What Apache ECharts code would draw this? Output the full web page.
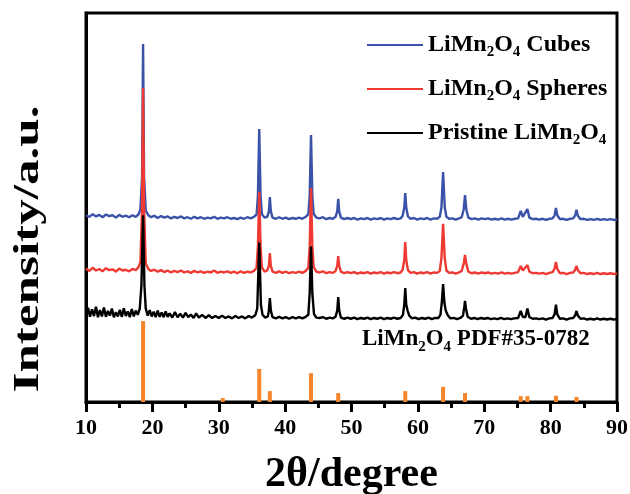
<!DOCTYPE html>
<html>
<head>
<meta charset="utf-8">
<script src="https://cdn.jsdelivr.net/npm/echarts@6/dist/echarts.min.js"></script>
<style>html,body{margin:0;padding:0;background:#fff;}#chart{width:630px;height:494px;}</style>
</head>
<body>
<div id="chart"></div>
<script>
// X axis ticks
const xTicks = [10, 20, 30, 40, 50, 60, 70, 80, 90];

// Series names
const seriesNames = ['LiMn2O4 Cubes', 'LiMn2O4 Spheres', 'Pristine LiMn2O4'];

// LiMn2O4 Cubes (offset pattern) [2theta, intensity]
const cubes = [[10,48.0],[10.5,47.6],[11,48.3],[11.5,47.7],[12,48.1],[12.5,47.5],[13,48.2],[13.5,47.8],[14,48.0],[14.5,47.4],[15,48.1],[15.5,47.6],[16,47.9],[16.5,47.5],[17,48.0],[17.5,47.6],[17.9,48.2],[18.2,49.5],[18.45,58],[18.6,92],[18.75,58],[19.0,49.2],[19.4,48.0],[19.8,47.5],[20.3,47.9],[20.8,47.3],[21.3,47.8],[21.8,47.4],[22.3,47.7],[22.8,47.2],[23.3,47.6],[23.8,47.3],[24.3,47.7],[24.8,47.2],[25.3,47.5],[25.8,47.1],[26.3,47.6],[26.8,47.2],[27.3,47.5],[27.8,47.1],[28.3,47.4],[28.8,47.2],[29.3,47.6],[29.8,47.1],[30.3,47.4],[30.8,47.2],[31.3,47.5],[31.8,47.1],[32.3,47.3],[32.8,47.0],[33.3,47.4],[33.8,47.1],[34.3,47.5],[34.8,47.2],[35.3,47.6],[35.7,48.2],[35.9,53],[36.1,70.2],[36.3,53],[36.5,48.3],[36.9,47.4],[37.3,47.6],[37.55,49],[37.7,52.7],[37.85,49],[38.1,47.4],[38.6,47.1],[39.1,47.5],[39.6,47.1],[40.1,47.4],[40.6,47.0],[41.1,47.3],[41.6,47.1],[42.1,47.4],[42.6,47.1],[43.1,47.6],[43.5,48.3],[43.7,53],[43.9,68.6],[44.1,53],[44.3,48.4],[44.7,47.4],[45.2,47.2],[45.7,47.5],[46.2,47.0],[46.7,47.3],[47.2,47.1],[47.6,47.6],[47.85,49],[48.0,52.2],[48.15,49],[48.4,47.4],[48.9,47.0],[49.4,47.3],[49.9,47.0],[50.4,47.3],[50.9,46.9],[51.4,47.2],[51.9,47.0],[52.4,47.3],[52.9,46.9],[53.4,47.2],[53.9,47.0],[54.4,47.3],[54.9,46.9],[55.4,47.2],[55.9,47.0],[56.4,47.3],[56.9,47.0],[57.4,47.2],[57.7,47.8],[57.95,50],[58.1,53.7],[58.25,50],[58.5,47.7],[58.9,47.1],[59.4,47.3],[59.9,46.9],[60.4,47.2],[60.9,47.0],[61.4,47.3],[61.9,46.9],[62.4,47.2],[62.9,47.1],[63.3,47.6],[63.55,50],[63.8,59.1],[64.05,50],[64.3,47.6],[64.7,47.1],[65.2,47.2],[65.7,46.9],[66.2,47.2],[66.6,47.5],[66.9,49.5],[67.1,53.2],[67.3,49.5],[67.6,47.4],[68.1,47.0],[68.6,47.2],[69.1,46.9],[69.6,47.2],[70.1,47.0],[70.6,47.2],[71.1,46.9],[71.6,47.1],[72.1,46.9],[72.6,47.2],[73.1,46.9],[73.6,47.1],[74.1,46.9],[74.6,47.1],[75.1,47.2],[75.5,49.1],[75.8,47.6],[76.1,47.5],[76.5,49.6],[76.8,47.4],[77.3,47.0],[77.8,47.1],[78.3,46.9],[78.8,47.1],[79.3,46.8],[79.8,47.1],[80.3,47.2],[80.6,48],[80.8,49.9],[81.0,48],[81.4,47.0],[81.9,47.1],[82.4,46.8],[82.9,47.1],[83.4,47.2],[83.7,48],[83.9,49.4],[84.1,47.9],[84.5,47.0],[85,47.1],[85.5,46.8],[86,47.0],[86.5,46.8],[87,47.1],[87.5,46.8],[88,47.0],[88.5,46.8],[89,47.0],[89.5,46.8],[90,46.9]];

// LiMn2O4 Spheres
const spheres = [[10,34.3],[10.5,33.7],[11,34.5],[11.5,33.8],[12,34.2],[12.5,33.6],[13,34.4],[13.5,33.9],[14,34.1],[14.5,33.5],[15,34.3],[15.5,33.8],[16,34.0],[16.5,33.6],[17,34.2],[17.5,33.9],[17.9,34.6],[18.2,36],[18.45,50],[18.6,80.7],[18.75,50],[19.0,35.6],[19.4,34.2],[19.8,33.7],[20.3,34.0],[20.8,33.5],[21.3,33.9],[21.8,33.4],[22.3,33.8],[22.8,33.3],[23.3,33.7],[23.8,33.4],[24.3,33.8],[24.8,33.3],[25.3,33.6],[25.8,33.2],[26.3,33.7],[26.8,33.3],[27.3,33.6],[27.8,33.2],[28.3,33.5],[28.8,33.3],[29.3,33.8],[29.8,33.2],[30.3,33.5],[30.8,33.3],[31.3,33.6],[31.8,33.2],[32.3,33.5],[32.8,33.1],[33.3,33.6],[33.8,33.2],[34.3,33.5],[34.8,33.3],[35.3,33.7],[35.7,34.5],[35.9,40],[36.1,54],[36.3,40],[36.5,34.6],[36.9,33.5],[37.3,33.8],[37.55,35],[37.7,38.3],[37.85,35],[38.1,33.5],[38.6,33.2],[39.1,33.6],[39.6,33.2],[40.1,33.5],[40.6,33.1],[41.1,33.4],[41.6,33.2],[42.1,33.5],[42.6,33.2],[43.1,33.7],[43.5,34.6],[43.7,40],[43.9,55],[44.1,40],[44.3,34.7],[44.7,33.5],[45.2,33.3],[45.7,33.6],[46.2,33.1],[46.7,33.4],[47.2,33.2],[47.6,33.7],[47.85,35],[48.0,37.5],[48.15,35],[48.4,33.5],[48.9,33.1],[49.4,33.4],[49.9,33.1],[50.4,33.4],[50.9,33.0],[51.4,33.3],[51.9,33.1],[52.4,33.4],[52.9,33.0],[53.4,33.3],[53.9,33.1],[54.4,33.4],[54.9,33.0],[55.4,33.3],[55.9,33.1],[56.4,33.4],[56.9,33.1],[57.4,33.3],[57.7,34],[57.95,36.5],[58.1,41.1],[58.25,36.5],[58.5,33.9],[58.9,33.2],[59.4,33.4],[59.9,33.0],[60.4,33.3],[60.9,33.1],[61.4,33.4],[61.9,33.0],[62.4,33.3],[62.9,33.2],[63.3,33.7],[63.55,37],[63.8,45.8],[64.05,37],[64.3,33.8],[64.7,33.2],[65.2,33.3],[65.7,33.0],[66.2,33.3],[66.6,33.7],[66.9,35.5],[67.1,37.8],[67.3,35.5],[67.6,33.5],[68.1,33.1],[68.6,33.3],[69.1,33.0],[69.6,33.3],[70.1,33.1],[70.6,33.3],[71.1,33.0],[71.6,33.2],[72.1,33.0],[72.6,33.3],[73.1,33.0],[73.6,33.2],[74.1,33.0],[74.6,33.2],[75.1,33.4],[75.5,35.0],[75.8,33.8],[76.1,33.7],[76.5,35.2],[76.8,33.5],[77.3,33.1],[77.8,33.2],[78.3,33.0],[78.8,33.2],[79.3,32.9],[79.8,33.2],[80.3,33.4],[80.6,34.3],[80.8,36.0],[81.0,34.2],[81.4,33.1],[81.9,33.2],[82.4,32.9],[82.9,33.2],[83.4,33.3],[83.7,34],[83.9,35.0],[84.1,33.9],[84.5,33.1],[85,33.2],[85.5,32.9],[86,33.1],[86.5,32.9],[87,33.2],[87.5,32.9],[88,33.1],[88.5,32.9],[89,33.1],[89.5,32.9],[90,33.0]];

// Pristine LiMn2O4
const pristine = [[10,22.6],[10.3,24.2],[10.6,21.9],[10.9,23.8],[11.2,22.1],[11.5,24.5],[11.8,21.8],[12.1,23.6],[12.4,22.0],[12.7,24.3],[13.0,21.9],[13.3,23.4],[13.6,22.2],[13.9,24.0],[14.2,21.8],[14.5,23.1],[14.8,22.0],[15.1,23.7],[15.4,21.9],[15.7,24.1],[16.0,22.1],[16.3,23.3],[16.6,21.8],[16.9,23.9],[17.2,22.0],[17.5,23.5],[17.8,22.4],[18.1,24.0],[18.35,30],[18.6,48],[18.8,30],[19.0,24.0],[19.3,22.2],[19.6,23.6],[19.9,22.0],[20.2,23.2],[20.5,21.8],[20.8,23.5],[21.1,21.9],[21.4,23.0],[21.7,21.8],[22.0,23.3],[22.3,21.9],[22.6,22.8],[23.0,21.7],[23.4,23.1],[23.8,21.8],[24.2,22.7],[24.6,21.7],[25.0,22.9],[25.4,21.8],[25.8,22.5],[26.2,21.6],[26.6,22.8],[27.0,21.7],[27.5,22.4],[28.0,21.6],[28.5,22.3],[29.0,21.6],[29.5,22.1],[30,21.6],[30.5,22.2],[31,21.6],[31.5,22.0],[32,21.5],[32.5,22.1],[33,21.6],[33.5,22.0],[34,21.5],[34.5,22.1],[35,21.7],[35.5,22.3],[35.8,24],[36.1,41],[36.35,25],[36.6,22.4],[37.0,21.7],[37.4,22.0],[37.55,23.5],[37.7,26.7],[37.85,23.5],[38.1,21.8],[38.6,21.5],[39.1,21.9],[39.6,21.5],[40.1,21.8],[40.6,21.4],[41.1,21.8],[41.6,21.5],[42.1,21.8],[42.6,21.5],[43.1,21.9],[43.5,22.5],[43.7,28],[43.9,40],[44.1,28],[44.35,22.6],[44.7,21.7],[45.2,21.6],[45.7,21.8],[46.2,21.4],[46.7,21.7],[47.2,21.5],[47.6,21.9],[47.85,23.5],[48.0,27],[48.15,23.5],[48.4,21.7],[48.9,21.4],[49.4,21.7],[49.9,21.4],[50.4,21.7],[50.9,21.3],[51.4,21.6],[51.9,21.4],[52.4,21.7],[52.9,21.3],[53.4,21.6],[53.9,21.4],[54.4,21.7],[54.9,21.3],[55.4,21.6],[55.9,21.4],[56.4,21.7],[56.9,21.4],[57.4,21.6],[57.75,22.4],[57.95,25],[58.1,29.3],[58.25,25],[58.45,23.5],[58.7,22.2],[59.1,21.5],[59.6,21.7],[60.1,21.3],[60.6,21.6],[61.1,21.4],[61.6,21.7],[62.1,21.3],[62.6,21.6],[63.1,21.6],[63.4,22.4],[63.6,25.5],[63.8,30.3],[64.0,25.5],[64.2,23.5],[64.5,22.3],[64.9,21.5],[65.4,21.6],[65.9,21.3],[66.4,21.6],[66.8,22.2],[67.0,24.5],[67.1,26],[67.25,24],[67.5,21.9],[68,21.4],[68.5,21.6],[69,21.3],[69.5,21.6],[70,21.4],[70.5,21.6],[71,21.3],[71.5,21.5],[72,21.3],[72.5,21.6],[73,21.3],[73.5,21.5],[74,21.3],[74.5,21.5],[75.1,21.6],[75.5,23.4],[75.8,21.9],[76.2,21.8],[76.5,24.0],[76.8,21.8],[77.3,21.4],[77.8,21.5],[78.3,21.3],[78.8,21.5],[79.3,21.2],[79.8,21.5],[80.3,21.6],[80.6,22.6],[80.8,25.0],[81.0,22.5],[81.4,21.4],[81.9,21.5],[82.4,21.2],[82.9,21.5],[83.4,21.6],[83.7,22.3],[83.9,23.4],[84.1,22.2],[84.5,21.4],[85,21.5],[85.5,21.2],[86,21.4],[86.5,21.2],[87,21.5],[87.5,21.2],[88,21.4],[88.5,21.2],[89,21.4],[89.5,21.2],[90,21.3]];

// Reference PDF#35-0782 stick pattern
const pdfPos = [18.6, 30.6, 36.1, 37.7, 43.9, 48.0, 58.1, 63.8, 67.1, 75.5, 76.5, 80.8, 83.9];
const pdfInt = [20.8, 1.0, 8.5, 2.8, 7.4, 2.3, 2.8, 3.9, 2.3, 1.5, 1.5, 1.6, 1.3];

const FONT = '"Liberation Serif", "Times New Roman", serif';
const richSub = {
  n: { fontSize: 24, fontWeight: 'bold', fontFamily: FONT, color: '#000' },
  s: { fontSize: 15, fontWeight: 'bold', fontFamily: FONT, color: '#000', padding: [15, 0, 0, 0] }
};
const richLabel = {
  'LiMn2O4 Cubes': '{n|LiMn}{s|2}{n|O}{s|4}{n| Cubes}',
  'LiMn2O4 Spheres': '{n|LiMn}{s|2}{n|O}{s|4}{n| Spheres}',
  'Pristine LiMn2O4': '{n|Pristine LiMn}{s|2}{n|O}{s|4}'
};
const colors = ['#3A52A8', '#EE3A33', '#000000'];

const chart = echarts.init(document.getElementById('chart'));
const lineSeries = [cubes, spheres, pristine].map((d, i) => ({
  name: seriesNames[i],
  type: 'line',
  data: d,
  symbol: 'none',
  lineStyle: { width: 2.4, color: colors[i] },
  itemStyle: { color: colors[i] },
  z: 2 + i
}));

chart.setOption({
  animation: false,
  backgroundColor: '#fff',
  grid: { left: 86, right: 13, top: 13, bottom: 92, show: true, borderColor: '#000', borderWidth: 3,
    outerBoundsMode: 'none', containLabel: false },
  legend: {
    data: seriesNames,
    orient: 'vertical',
    left: 362,
    top: 28,
    icon: 'rect',
    itemWidth: 56,
    itemHeight: 2,
    itemGap: 17,
    formatter: name => richLabel[name],
    textStyle: { rich: richSub, fontSize: 24, fontWeight: 'bold', fontFamily: FONT, color: '#000' }
  },
  xAxis: {
    type: 'value',
    min: 10, max: 90, interval: 10,
    name: '2θ/degree',
    nameLocation: 'middle',
    nameGap: 52,
    nameTextStyle: { fontSize: 42, fontWeight: 'bold', fontFamily: FONT, color: '#000' },
    axisLine: { show: true, onZero: false, lineStyle: { color: '#000', width: 3 } },
    axisTick: { show: true, inside: false, length: 10, lineStyle: { color: '#000', width: 3 } },
    minorTick: { show: true, splitNumber: 2, length: 6, lineStyle: { color: '#000', width: 3 } },
    axisLabel: { fontSize: 22, fontWeight: 'bold', fontFamily: FONT, color: '#000', margin: 15,
      formatter: v => (xTicks.indexOf(v) >= 0 ? String(v) : '') },
    splitLine: { show: false }
  },
  yAxis: {
    type: 'value', min: 0, max: 100,
    axisLine: { show: true, lineStyle: { color: '#000', width: 3 } },
    axisTick: { show: false }, axisLabel: { show: false }, splitLine: { show: false }
  },
  graphic: [
    {
      type: 'text', x: 29, y: 249, rotation: Math.PI / 2, scaleX: 1.42,
      style: { text: 'Intensity/a.u.', fontSize: 36, fontWeight: 'bold', fontFamily: FONT, fill: '#000', align: 'center', verticalAlign: 'middle' }
    },
    {
      type: 'text', left: 362, top: 328,
      style: {
        text: '{n|LiMn}{s|2}{n|O}{s|4}{n| PDF#35-0782}',
        rich: {
          n: { fontSize: 23, fontWeight: 'bold', fontFamily: FONT, fill: '#000' },
          s: { fontSize: 15, fontWeight: 'bold', fontFamily: FONT, fill: '#000', padding: [15, 0, 0, 0] }
        }
      }
    }
  ],
  series: lineSeries.concat([{
    name: 'PDF#35-0782',
    type: 'bar',
    data: pdfPos.map((p, i) => [p, pdfInt[i]]),
    barWidth: 4,
    itemStyle: { color: '#F5852B' },
    z: 1
  }])
});
</script>
</body>
</html>
